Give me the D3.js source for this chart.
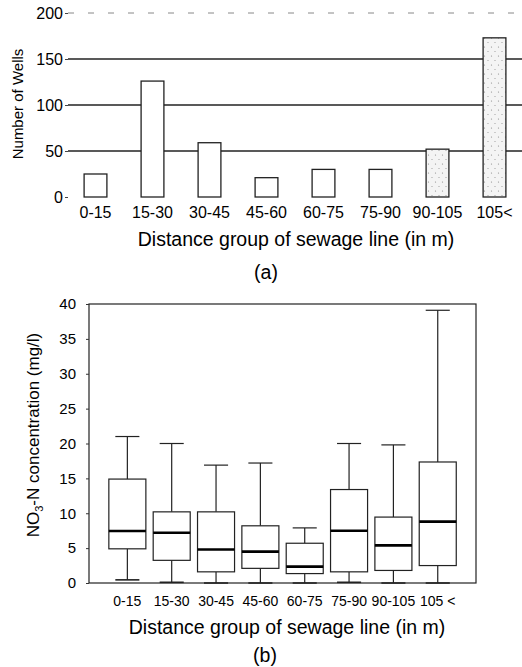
<!DOCTYPE html>
<html><head><meta charset="utf-8">
<script src="https://cdn.jsdelivr.net/npm/d3@7"></script>
<style>body{margin:0;background:#fff}svg{display:block}text{font-family:"Liberation Sans",Arial,sans-serif;fill:#000}</style>
</head><body>
<script>
const categoriesA = ["0-15","15-30","30-45","45-60","60-75","75-90","90-105","105<"];
const wellCounts = [25,126,59,21,30,30,52,173];
const stippled = [false,false,false,false,false,false,true,true];
const yTicksA = [0,50,100,150,200];

const categoriesB = ["0-15","15-30","30-45","45-60","60-75","75-90","90-105","105 <"];
const whiskerLow = [0.45,0.1,0,0,0,0.1,0,0];
const q1 = [4.9,3.25,1.6,2.1,1.35,1.6,1.8,2.5];
const median = [7.45,7.2,4.8,4.5,2.35,7.5,5.4,8.8];
const q3 = [14.9,10.2,10.2,8.2,5.7,13.4,9.45,17.35];
const whiskerHigh = [21,20,16.9,17.2,7.9,20,19.8,39.1];
const yTicksB = [0,5,10,15,20,25,30,35,40];

const W=522,H=667;
const svg=d3.select("body").append("svg").attr("width",W).attr("height",H);
const defs=svg.append("defs");
const pat=defs.append("pattern").attr("id","stip").attr("patternUnits","userSpaceOnUse").attr("width",7).attr("height",9);
pat.append("rect").attr("width",7).attr("height",9).attr("fill","#f4f4f4");
pat.append("circle").attr("cx",1.5).attr("cy",2).attr("r",0.6).attr("fill","#888");
pat.append("circle").attr("cx",5).attr("cy",6.5).attr("r",0.6).attr("fill","#999");

// ---------- Chart (a) ----------
const xA=d3.scaleBand().domain(categoriesA).range([67,523]).paddingInner(0.6).paddingOuter(0.3);
const yA=d3.scaleLinear().domain([0,200]).range([197,13]);
const gA=svg.append("g");
gA.selectAll("line.grid").data(yTicksA.filter(d=>d>0)).join("line")
  .attr("x1",68).attr("x2",522).attr("y1",d=>yA(d)).attr("y2",d=>yA(d))
  .attr("stroke",d=>d===200?"#888":"#222").attr("stroke-width",d=>d===200?1:1.3)
  .attr("stroke-dasharray",d=>d===200?"6,14":null);
const axA=d3.axisLeft(yA).tickValues(yTicksA).tickSize(3).tickPadding(3);
const gax=gA.append("g").attr("transform","translate(68,0)").call(axA);
gax.select(".domain").remove();
gax.selectAll("text").style("font-size","16px").attr("x",-5);
gax.selectAll(".tick line").attr("stroke","#444");
gA.selectAll("rect.bar").data(categoriesA).join("rect")
  .attr("x",d=>xA(d)).attr("width",xA.bandwidth())
  .attr("y",(d,i)=>yA(wellCounts[i])).attr("height",(d,i)=>yA(0)-yA(wellCounts[i]))
  .attr("fill",(d,i)=>stippled[i]?"url(#stip)":"#fff").attr("stroke","#222").attr("stroke-width",1.3);
gA.selectAll("text.xl").data(categoriesA).join("text")
  .attr("x",d=>xA(d)+xA.bandwidth()/2).attr("y",218).attr("text-anchor","middle")
  .style("font-size","16px").text(d=>d);
gA.append("text").attr("x",296).attr("y",246).attr("text-anchor","middle").style("font-size","19.5px").text("Distance group of sewage line (in m)");
gA.append("text").attr("x",266).attr("y",279).attr("text-anchor","middle").style("font-size","19.5px").text("(a)");
gA.append("text").attr("transform","translate(23,104) rotate(-90)").attr("text-anchor","middle").style("font-size","15px").text("Number of Wells");

// ---------- Chart (b) ----------
const xB=d3.scaleBand().domain(categoriesB).range([105.3,459.8]).paddingInner(0.165).paddingOuter(0.08);
const yB=d3.scaleLinear().domain([0,40]).range([583,304]);
const gB=svg.append("g");
gB.append("rect").attr("x",89).attr("y",304).attr("width",476-89).attr("height",583-304)
  .attr("fill","none").attr("stroke","#222").attr("stroke-width",1.2);
const axB=d3.axisLeft(yB).tickValues(yTicksB).tickSize(3).tickPadding(2);
const gbx=gB.append("g").attr("transform","translate(89,0)").call(axB);
gbx.select(".domain").remove();
gbx.selectAll("text").style("font-size","15px").attr("x",-13);
gbx.selectAll(".tick line").attr("stroke","#333");
const bw=xB.bandwidth(), cw=bw*0.65;
const boxes=gB.selectAll("g.box").data(categoriesB).join("g").attr("class","box");
boxes.append("line").attr("x1",d=>xB(d)+bw/2).attr("x2",d=>xB(d)+bw/2)
  .attr("y1",(d,i)=>yB(whiskerHigh[i])).attr("y2",(d,i)=>yB(q3[i])).attr("stroke","#222").attr("stroke-width",1.2);
boxes.append("line").attr("x1",d=>xB(d)+bw/2).attr("x2",d=>xB(d)+bw/2)
  .attr("y1",(d,i)=>yB(whiskerLow[i])).attr("y2",(d,i)=>yB(q1[i])).attr("stroke","#222").attr("stroke-width",1.2);
boxes.append("line").attr("x1",d=>xB(d)+bw/2-cw/2).attr("x2",d=>xB(d)+bw/2+cw/2)
  .attr("y1",(d,i)=>yB(whiskerHigh[i])).attr("y2",(d,i)=>yB(whiskerHigh[i])).attr("stroke","#222").attr("stroke-width",1.2);
boxes.append("line").attr("x1",d=>xB(d)+bw/2-cw/2).attr("x2",d=>xB(d)+bw/2+cw/2)
  .attr("y1",(d,i)=>yB(whiskerLow[i])).attr("y2",(d,i)=>yB(whiskerLow[i])).attr("stroke","#222").attr("stroke-width",1.6);
boxes.append("rect").attr("x",d=>xB(d)).attr("width",bw)
  .attr("y",(d,i)=>yB(q3[i])).attr("height",(d,i)=>yB(q1[i])-yB(q3[i]))
  .attr("fill","#fff").attr("stroke","#222").attr("stroke-width",1.2);
boxes.append("line").attr("x1",d=>xB(d)).attr("x2",d=>xB(d)+bw)
  .attr("y1",(d,i)=>yB(median[i])).attr("y2",(d,i)=>yB(median[i])).attr("stroke","#000").attr("stroke-width",2.6);
gB.selectAll("text.xl").data(categoriesB).join("text")
  .attr("x",d=>xB(d)+bw/2).attr("y",606).attr("text-anchor","middle")
  .style("font-size","14px").text(d=>d);
gB.append("text").attr("x",287).attr("y",634).attr("text-anchor","middle").style("font-size","19.5px").text("Distance group of sewage line (in m)");
gB.append("text").attr("x",265).attr("y",662).attr("text-anchor","middle").style("font-size","19.5px").text("(b)");
const yt=gB.append("text").attr("transform","translate(39,435) rotate(-90)").attr("text-anchor","middle").style("font-size","17px");
yt.append("tspan").text("NO");
yt.append("tspan").attr("dy",4).style("font-size","11px").text("3");
yt.append("tspan").attr("dy",-4).text("-N concentration (mg/l)");
</script>
</body></html>
